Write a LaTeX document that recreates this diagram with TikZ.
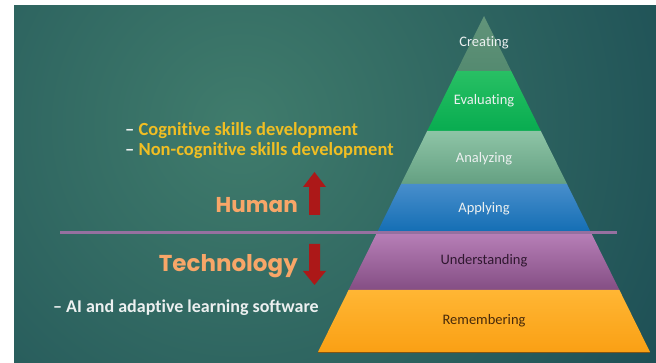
\documentclass[tikz,border=0pt]{standalone}
\usepackage{fontspec}
\setmainfont[Ligatures=NoCommon]{Carlito}
\newfontfamily\headfont{Poppins}
\definecolor{bgdark}{RGB}{24,72,82}
\definecolor{bglight}{RGB}{64,124,108}
\definecolor{cyellow}{RGB}{240,190,35}
\definecolor{cpeach}{RGB}{248,166,104}
\definecolor{cred}{RGB}{172,24,24}
\definecolor{cline}{RGB}{150,112,160}
\definecolor{lightlbl}{RGB}{236,240,240}
\definecolor{creT}{RGB}{98,148,122}\definecolor{creB}{RGB}{84,138,112}
\definecolor{evaT}{RGB}{40,192,100}\definecolor{evaB}{RGB}{8,172,80}
\definecolor{anaT}{RGB}{142,196,166}\definecolor{anaB}{RGB}{100,160,130}
\definecolor{appT}{RGB}{72,142,204}\definecolor{appB}{RGB}{20,110,180}
\definecolor{undT}{RGB}{184,128,184}\definecolor{undB}{RGB}{132,78,132}
\definecolor{remT}{RGB}{255,182,52}\definecolor{remB}{RGB}{250,160,20}
\definecolor{remEdge}{RGB}{130,85,20}
\definecolor{undText}{RGB}{48,24,48}
\definecolor{remText}{RGB}{72,42,10}
\begin{document}
\begin{tikzpicture}[x=1pt,y=-1pt,
  bullet/.style={anchor=base west, inner sep=0pt, font=\fontsize{18.5}{20}\bfseries\selectfont},
  head/.style={anchor=base east, inner sep=0pt, text=cpeach, font=\headfont\fontsize{21.5}{24}\bfseries\selectfont},
  lvl/.style={anchor=base, inner sep=0pt, font=\fontsize{14.5}{16}\selectfont},
  band/.style={draw=none},
  bigarrow/.style={fill=cred}
]
\useasboundingbox (0,0) rectangle (656,363);
\fill[white] (0,0) rectangle (656,363);
% slide background
\begin{scope}
  \clip (14,6) rectangle (656,363);
  \fill[bgdark] (14,6) rectangle (656,363);
  \shade[inner color=bglight, outer color=bgdark] (240pt,-125pt) circle (560pt);
\end{scope}
% pyramid bands
\shade[band, top color=creT, bottom color=creB]
  (484,16) -- (511.2,71) -- (456.8,71) -- cycle;
\shade[band, top color=evaT, bottom color=evaB]
  (456.8,71) -- (511.2,71) -- (540.8,131) -- (427.2,131) -- cycle;
\shade[band, top color=anaT, bottom color=anaB]
  (427.2,131) -- (540.8,131) -- (567,184) -- (401,184) -- cycle;
\shade[band, top color=appT, bottom color=appB]
  (401,184) -- (567,184) -- (590.7,232) -- (377.3,232) -- cycle;
\shade[band, top color=undT, bottom color=undB]
  (377.3,232) -- (590.7,232) -- (619.4,290) -- (348.6,290) -- cycle;
\shade[band, top color=remT, bottom color=remB]
  (348.6,290) -- (619.4,290) -- (650,352) -- (318,352) -- cycle;
\draw[line width=1pt, remEdge] (318,352.5) -- (650,352.5);
% pyramid labels
\node[lvl, text=lightlbl] (creating) at (484,47) {Creating};
\node[lvl, text=lightlbl] (evaluating) at (484,105) {Evaluating};
\node[lvl, text=lightlbl] (analyzing) at (484,162.5) {Analyzing};
\node[lvl, text=lightlbl] (applying) at (484,212.5) {Applying};
\node[lvl, text=undText] (understanding) at (484,265) {Understanding};
\node[lvl, text=remText] (remembering) at (484,325) {Remembering};
% divider
\coordinate (divL) at (60,232.5);
\coordinate (divR) at (617,232.5);
\draw[cline, line width=2.4pt] (divL) -- (divR);
% left texts
\node[bullet, text=cyellow] (cog) at (125,136) {\textcolor{lightlbl}{–} Cognitive skills development};
\node[bullet, text=cyellow] (noncog) at (125,155.5) {\textcolor{lightlbl}{–} Non-cognitive skills development};
\node[head] (human) at (298,213) {Human};
\node[head, font=\headfont\fontsize{23}{25}\bfseries\selectfont] (tech) at (298,272) {Technology};
\node[bullet, text=lightlbl, font=\fontsize{18}{20}\bfseries\selectfont] (ai) at (53,313) {– AI and adaptive learning software};
% arrows
\fill[bigarrow] (309,215) -- (309,187) -- (303,187) -- (314.5,172) -- (326,187) -- (320,187) -- (320,215) -- cycle;
\fill[bigarrow] (309,244) -- (309,271) -- (303,271) -- (314.5,285) -- (326,271) -- (320,271) -- (320,244) -- cycle;
\end{tikzpicture}
\end{document}
